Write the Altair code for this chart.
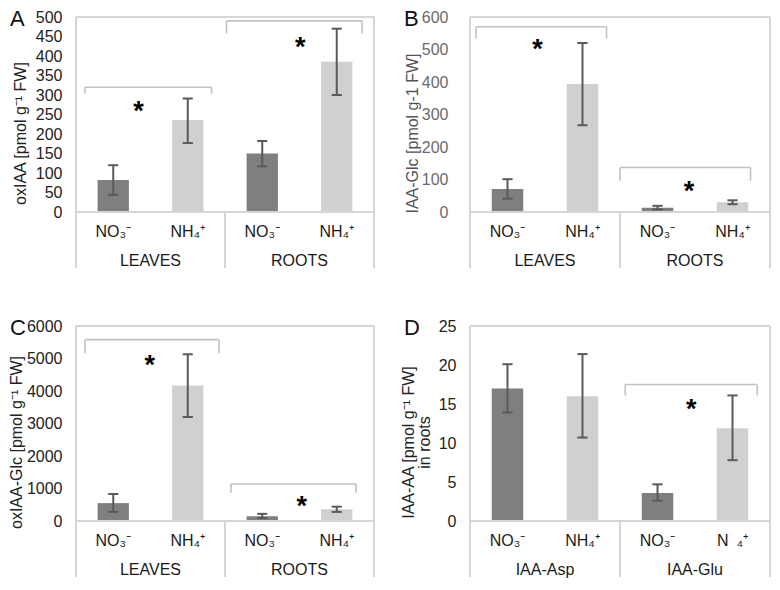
import altair as alt
import pandas as pd

FONT = "Liberation Sans"
DARK = "#7f7f7f"
LIGHT = "#d0d0d0"
ERR = "#5a5a5a"
FRAME = "#d6d6d6"
BRACKET = "#c2c2c2"
TEXT = "#1a1a1a"

# ---------------- data ----------------
kinds = ["NO3", "NH4", "NO3", "NH4"]
treatments = ["NO₃⁻", "NH₄⁺", "NO₃⁻", "NH₄⁺"]
treatments_d = ["NO₃⁻", "NH₄⁺", "NO₃⁻", "N\u2002₄⁺"]
tissue_groups = ["LEAVES", "ROOTS"]
conj_groups = ["IAA-Asp", "IAA-Glu"]

# A  oxIAA
a_ticks = [0, 50, 100, 150, 200, 250, 300, 350, 400, 450, 500]
a_values = [82, 236, 150, 385]
a_low = [44, 177, 117, 300]
a_high = [120, 291, 182, 470]
a_br_x1 = [0.12, 2.02]
a_br_x2 = [1.82, 3.84]
a_br_y = [320, 490]
a_br_drop = [303, 458]
a_star_x = [0.84, 3.01]
a_star_y = [278, 440]

# B  IAA-Glc
b_ticks = [0, 100, 200, 300, 400, 500, 600]
b_values = [71, 394, 13, 30]
b_low = [41, 267, 8, 24]
b_high = [101, 520, 19, 36]
b_br_x1 = [0.08, 2.0]
b_br_x2 = [1.82, 3.74]
b_br_y = [570, 137]
b_br_drop = [534, 96]
b_star_x = [0.90, 2.92]
b_star_y = [523, 85]

# C  oxIAA-Glc
c_ticks = [0, 1000, 2000, 3000, 4000, 5000, 6000]
c_values = [550, 4170, 150, 360]
c_low = [280, 3200, 90, 280]
c_high = [830, 5130, 220, 440]
c_br_x1 = [0.12, 2.08]
c_br_x2 = [1.92, 3.76]
c_br_y = [5580, 1140]
c_br_drop = [5160, 870]
c_star_x = [0.99, 3.03]
c_star_y = [5010, 690]

# D  IAA-AA in roots
d_ticks = [0, 5, 10, 15, 20, 25]
d_values = [17.0, 16.0, 3.6, 11.9]
d_low = [13.9, 10.7, 2.6, 7.8]
d_high = [20.1, 21.4, 4.7, 16.1]
d_br_x1 = [2.07]
d_br_x2 = [3.83]
d_br_y = [17.5]
d_br_drop = [16.1]
d_star_x = [2.95]
d_star_y = [15.3]

# ---------------- layout ----------------
PLOT_H = 195
CAT_H = 56
SMALL_LAB_PX = 20
GROUP_LAB_PX = 49


def panel(letter, title, ticks, ymax, groups, labels, values, low, high,
          br_x1, br_x2, br_y, br_drop, star_x, star_y, width,
          tick_color, title_color, label_pad, title_x):
    ymin = -ymax * CAT_H / PLOT_H
    height = PLOT_H + CAT_H
    ysc = alt.Scale(domain=[ymin, ymax], nice=False, zero=False)
    xsc = alt.Scale(domain=[0, 4], nice=False, zero=False)

    yaxis = alt.Axis(values=ticks, format="d", title=title, labelFont=FONT,
                     labelFontSize=16, labelColor=tick_color,
                     labelPadding=label_pad, ticks=False, domain=False,
                     grid=False, titleFont=FONT, titleFontSize=16,
                     titleFontWeight="normal", titleColor=title_color,
                     titleX=title_x, titleY=116, titleBaseline="middle",
                     titleAngle=270, titleLineHeight=16)

    def X(f):
        return alt.X(f, scale=xsc, axis=None)

    def Y(f):
        return alt.Y(f, scale=ysc, axis=yaxis)

    slots = [i + 0.5 for i in range(4)]
    bars = pd.DataFrame({"slot": slots, "kind": kinds, "value": values,
                         "low": low, "high": high, "label": labels})
    bars["x1"] = bars.slot - 0.21
    bars["x2"] = bars.slot + 0.21
    bars["c1"] = bars.slot - 0.068
    bars["c2"] = bars.slot + 0.068
    bars["base"] = 0.0
    bars["laby"] = -ymax * SMALL_LAB_PX / PLOT_H

    base = alt.Chart(bars)
    bar = base.mark_bar().encode(
        x=X("x1:Q"), x2="x2:Q", y=Y("value:Q"), y2="base:Q",
        color=alt.Color("kind:N", scale=alt.Scale(domain=["NO3", "NH4"],
                                                  range=[DARK, LIGHT]),
                        legend=None))
    err = base.mark_rule(color=ERR, strokeWidth=2).encode(
        x=X("slot:Q"), y=Y("low:Q"), y2="high:Q")
    cap_lo = base.mark_rule(color=ERR, strokeWidth=2).encode(
        x=X("c1:Q"), x2="c2:Q", y=Y("low:Q"))
    cap_hi = base.mark_rule(color=ERR, strokeWidth=2).encode(
        x=X("c1:Q"), x2="c2:Q", y=Y("high:Q"))

    frame = pd.DataFrame({"x": [0, 0, 4, 0, 2], "x2": [4, 0, 4, 4, 2],
                          "y": [ymax, ymin, ymin, 0, ymin],
                          "y2": [ymax, ymax, ymax, 0, 0]})
    fr = alt.Chart(frame).mark_rule(color=FRAME, strokeWidth=2).encode(
        x=X("x:Q"), x2="x2:Q", y=Y("y:Q"), y2="y2:Q")

    segs = {"x": [], "x2": [], "y": [], "y2": []}
    for x1, x2, y, yd in zip(br_x1, br_x2, br_y, br_drop):
        for sx, sx2, sy, sy2 in [(x1, x2, y, y), (x1, x1, yd, y), (x2, x2, yd, y)]:
            segs["x"].append(sx)
            segs["x2"].append(sx2)
            segs["y"].append(sy)
            segs["y2"].append(sy2)
    br = alt.Chart(pd.DataFrame(segs)).mark_rule(color=BRACKET, strokeWidth=1.6).encode(
        x=X("x:Q"), x2="x2:Q", y=Y("y:Q"), y2="y2:Q")

    stars = alt.Chart(pd.DataFrame({"x": star_x, "y": star_y, "s": ["*"] * len(star_x)})).mark_text(
        font=FONT, fontSize=27, fontWeight="bold", color="#000", baseline="middle", dy=8).encode(
        x=X("x:Q"), y=Y("y:Q"), text="s:N")

    labs = base.mark_text(font=FONT, fontSize=16, color=TEXT, baseline="middle").encode(
        x=X("slot:Q"), y=Y("laby:Q"), text="label:N")

    gdf = pd.DataFrame({"x": [1, 3], "g": groups,
                        "y": [-ymax * GROUP_LAB_PX / PLOT_H] * 2})
    glabs = alt.Chart(gdf).mark_text(font=FONT, fontSize=16, color=TEXT, baseline="middle").encode(
        x=X("x:Q"), y=Y("y:Q"), text="g:N")

    let = alt.Chart(pd.DataFrame({"t": [letter]})).mark_text(
        font=FONT, fontSize=22, color="#111", align="left", baseline="middle").encode(
        x=alt.value(-66), y=alt.value(2), text="t:N")

    return alt.layer(bar, err, cap_lo, cap_hi, fr, br, stars, labs, glabs, let).properties(
        width=width, height=height)


pA = panel("A", "oxIAA [pmol g⁻¹ FW]", a_ticks, 500, tissue_groups, treatments,
           a_values, a_low, a_high, a_br_x1, a_br_x2, a_br_y, a_br_drop,
           a_star_x, a_star_y, 298, "#222", "#222", 14, -56)
pB = panel("B", "IAA-Glc [pmol g-1 FW]", b_ticks, 600, tissue_groups, treatments,
           b_values, b_low, b_high, b_br_x1, b_br_x2, b_br_y, b_br_drop,
           b_star_x, b_star_y, 300, "#6b6b6b", "#555", 22, -58)
pC = panel("C", "oxIAA-Glc [pmol g⁻¹ FW]", c_ticks, 6000, tissue_groups, treatments,
           c_values, c_low, c_high, c_br_x1, c_br_x2, c_br_y, c_br_drop,
           c_star_x, c_star_y, 298, "#222", "#222", 14, -60)
pD = panel("D", ["IAA-AA [pmol g⁻¹ FW]", "in roots"], d_ticks, 25, conj_groups, treatments_d,
           d_values, d_low, d_high, d_br_x1, d_br_x2, d_br_y, d_br_drop,
           d_star_x, d_star_y, 300, "#222", "#222", 14, -62)

chart = alt.concat(
    pA, pB, pC, pD, columns=2,
    spacing={"row": 58, "column": 96}, bounds="flush",
).properties(padding=0, background="white").configure_view(stroke=None)

chart.save("out.html", embed_options={"renderer": "svg", "actions": False})
